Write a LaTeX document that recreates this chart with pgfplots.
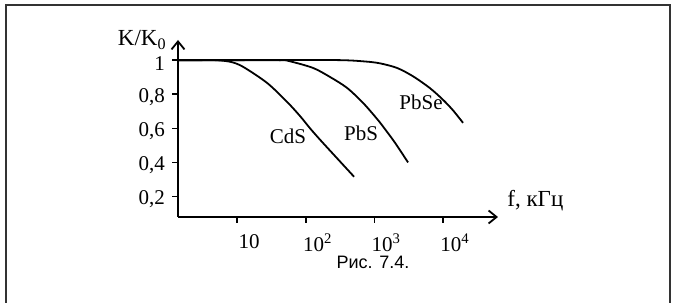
\documentclass[border=0pt]{standalone}
\usepackage{fontspec}
\setmainfont{Liberation Serif}
\newfontfamily\capfont{Liberation Sans}
\usepackage{pgfplots}
\pgfplotsset{compat=1.18}
\usetikzlibrary{arrows.meta}
\begin{document}
\begin{tikzpicture}
\useasboundingbox (-89pt,-43pt) rectangle (249.5pt,108.5pt);
\draw[black!80, line width=1pt] (-86pt,-44pt) -- (-86pt,106pt) -- (246pt,106pt) -- (246pt,-44pt);
\begin{axis}[
  at={(0,0)}, anchor=south west,
  scale only axis, width=160pt, height=88.5pt,
  xmode=log, xmin=1.38, xmax=63096, ymin=0.08, ymax=1.118,
  axis lines=left,
  axis line style={line width=0.9pt, -{Straight Barb[length=4pt,width=6.5pt,line width=0.9pt]}},
  xtick={10,100,1000,10000},
  xticklabels={10,10\textsuperscript{2},10\textsuperscript{3},10\textsuperscript{4}},
  ytick={0.2,0.4,0.6,0.8,1},
  yticklabels={{0,2},{0,4},{0,6},{0,8},1},
  xminorticks=false, yminorticks=false,
  tick align=outside, major tick length=3pt,
  tick style={line width=0.8pt, black},
  ticklabel style={font=\fontsize{10.5}{12}\selectfont},
  xticklabel style={xshift=6pt, yshift=-2pt},
  yticklabel style={yshift=-1.5pt},
  clip=false,
]
\addplot[black, line width=0.9pt, smooth] coordinates {
(1.38,1) (3,1) (4.8,1) (8,0.99) (12.2,0.961) (27.4,0.866) (53.5,0.755) (82.6,0.672)
(115.6,0.600) (161.8,0.533) (250,0.450) (350,0.386) (506,0.316)};
\addplot[black, line width=0.9pt, smooth] coordinates {
(1.38,1) (10,1) (42,1) (59,0.993) (128,0.954) (226,0.901) (400,0.837) (684,0.749)
(1094,0.655) (1429,0.595) (2000,0.515) (3090,0.400)};
\addplot[black, line width=0.9pt, smooth] coordinates {
(1.38,1) (30,1) (300,1) (731,0.992) (1208,0.981) (2138,0.954) (3656,0.905) (6471,0.835)
(10000,0.767) (14000,0.705) (19540,0.632)};
\node[font=\fontsize{10.5}{12}\selectfont] at (axis cs:55.3,0.556) {CdS};
\node[font=\fontsize{10.5}{12}\selectfont] at (axis cs:640,0.568) {PbS};
\node[font=\fontsize{10.5}{12}\selectfont] at (axis cs:4775,0.755) {PbSe};
\node[anchor=base east, font=\fontsize{11.5}{13}\selectfont, inner sep=0pt] at ([xshift=-5.5pt,yshift=-3pt]rel axis cs:0,1) {K/K\textsubscript{0}};
\node[anchor=base west, font=\fontsize{11.5}{13}\selectfont, inner sep=0pt] at ([xshift=4.5pt,yshift=5pt]rel axis cs:1,0) {f, кГц};
\end{axis}
\node[font=\capfont\fontsize{9}{11}\selectfont] at (97.5pt,-22.5pt) {Рис. 7.4.};
\end{tikzpicture}
\end{document}
